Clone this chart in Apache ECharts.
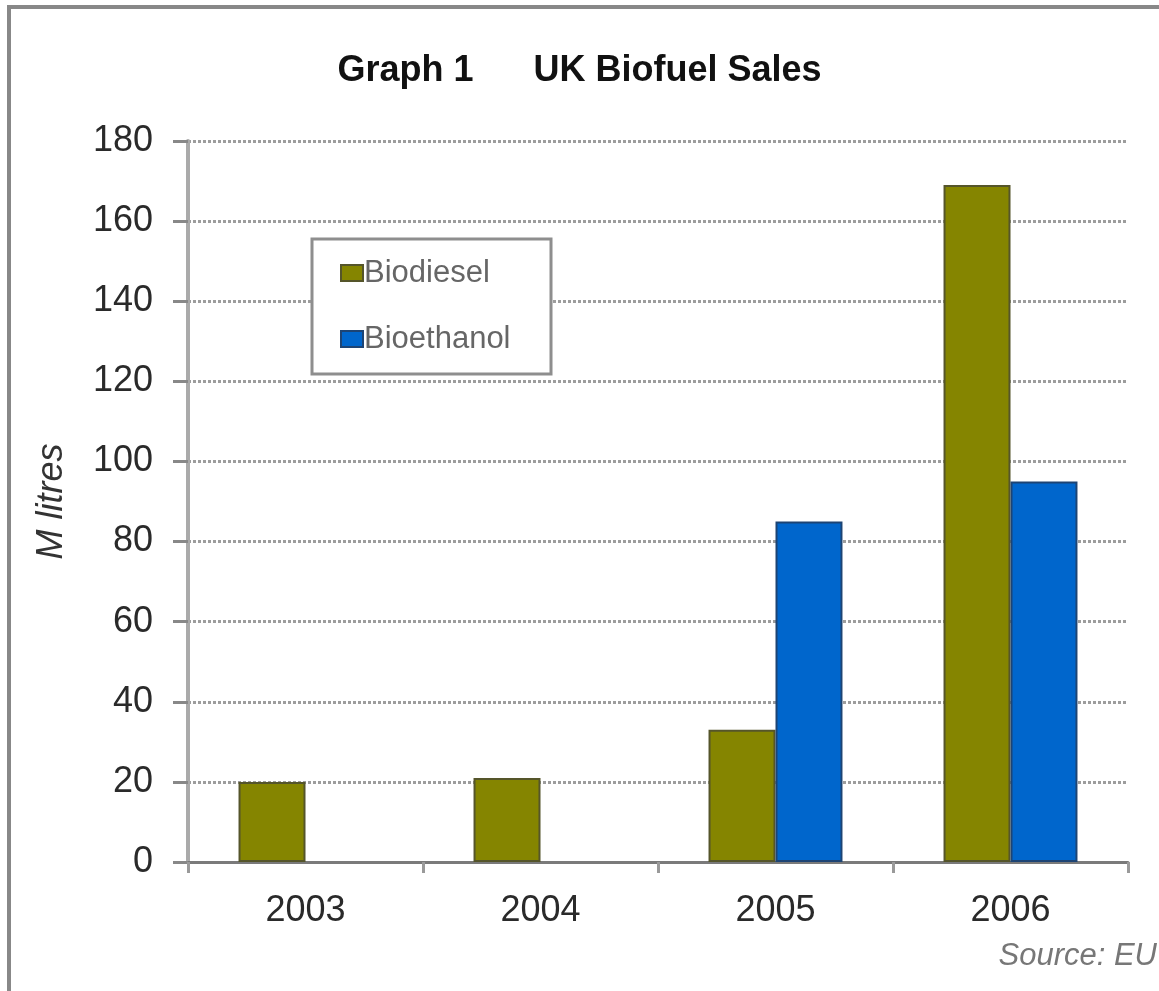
<!DOCTYPE html>
<html>
<head>
<meta charset="utf-8">
<title>UK Biofuel Sales</title>
<script src="https://cdn.jsdelivr.net/npm/echarts@6/dist/echarts.min.js"></script>
<style>
  html, body { margin: 0; padding: 0; background: #ffffff; }
  #chart { width: 1159px; height: 991px; }
</style>
</head>
<body>
<div id="chart"></div>
<script>
// Annual UK biofuel sales, million litres
const years = ['2003', '2004', '2005', '2006'];
const biodiesel = [20, 21, 33, 169];
const bioethanol = [0, 0, 85, 95];
const yTicks = [0, 20, 40, 60, 80, 100, 120, 140, 160, 180];

const chart = echarts.init(document.getElementById('chart'), null, { renderer: 'canvas' });
const baseFont = 'Liberation Sans, Arial, sans-serif';

chart.setOption({
  backgroundColor: '#ffffff',
  animation: false,
  title: {
    text: 'Graph 1      UK Biofuel Sales',
    left: 'center',
    top: 53,
    padding: 0,
    textStyle: { fontFamily: baseFont, fontSize: 36, fontWeight: 'bold', color: '#111' }
  },
  graphic: [
    {
      type: 'rect',
      shape: { x: 9, y: 7, width: 1300, height: 1300 },
      style: { fill: 'none', stroke: '#888', lineWidth: 4 },
      silent: true
    },
    {
      type: 'rect',
      shape: { x: 312, y: 239, width: 239, height: 135 },
      style: { fill: '#ffffff', stroke: '#8e8e8e', lineWidth: 3 },
      z: 50
    },
    {
      type: 'text',
      right: 2,
      top: 941,
      style: {
        text: 'Source: EU',
        font: 'italic 31px ' + baseFont,
        fill: '#777'
      }
    }
  ],
  legend: {
    orient: 'vertical',
    left: 340,
    top: 257,
    padding: 0,
    itemGap: 34,
    itemWidth: 22,
    itemHeight: 16,
    icon: 'rect',
    z: 60,
    textStyle: { fontFamily: baseFont, fontSize: 31, color: '#666', lineHeight: 32, padding: [0, 0, 0, -4] },
    data: ['Biodiesel', 'Bioethanol']
  },
  grid: { left: 188, right: 31, top: 141, bottom: 129, containLabel: false },
  xAxis: {
    type: 'category',
    data: years,
    axisLine: { lineStyle: { color: '#7a7a7a', width: 3 } },
    axisTick: { show: true, length: 11, lineStyle: { color: '#9a9a9a', width: 3 } },
    axisLabel: { margin: 31, fontFamily: baseFont, fontSize: 36, color: '#2a2a2a' },
    splitLine: { show: false }
  },
  yAxis: {
    type: 'value',
    min: 0,
    max: 180,
    interval: 20,
    name: 'M litres',
    nameLocation: 'middle',
    nameGap: 118,
    nameTextStyle: { fontFamily: baseFont, fontSize: 36, fontStyle: 'italic', color: '#333' },
    axisLine: { show: true, lineStyle: { color: '#aaaaaa', width: 4 } },
    axisTick: { show: true, inside: false, length: 15, lineStyle: { color: '#888', width: 3 } },
    axisLabel: {
      margin: 35,
      fontFamily: baseFont,
      fontSize: 36,
      color: '#2a2a2a',
      formatter: function (v) { return yTicks.indexOf(v) >= 0 ? String(v) : ''; }
    },
    splitLine: { show: true, lineStyle: { color: '#9d9d9d', width: 3, type: [3, 2] } }
  },
  series: [
    {
      name: 'Biodiesel',
      type: 'bar',
      data: biodiesel,
      barGap: '0%',
      barCategoryGap: '43%',
      itemStyle: { color: '#858500', borderColor: '#55552a', borderWidth: 2 }
    },
    {
      name: 'Bioethanol',
      type: 'bar',
      data: bioethanol.map(function (v) { return v === 0 ? null : v; }),
      barGap: '0%',
      barCategoryGap: '43%',
      itemStyle: { color: '#0066cc', borderColor: '#1d4474', borderWidth: 2 }
    }
  ]
});
</script>
</body>
</html>
